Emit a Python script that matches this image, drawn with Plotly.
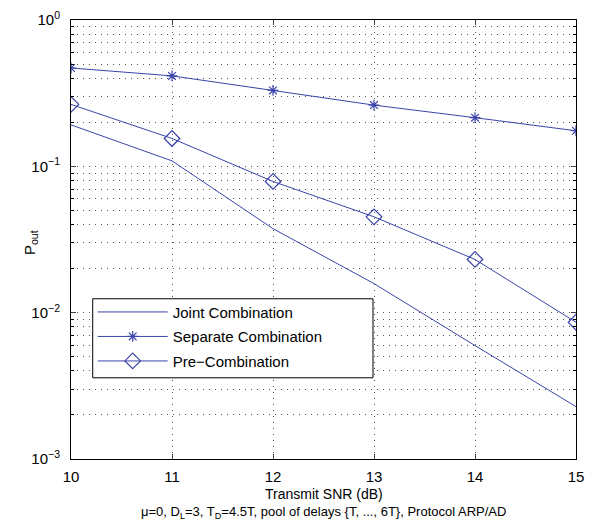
import plotly.graph_objects as go

snr = [10, 11, 12, 13, 14, 15]
joint = [0.192, 0.109, 0.0375, 0.0158, 0.00596, 0.00228]
separate = [0.47, 0.415, 0.33, 0.262, 0.215, 0.175]
precomb = [0.265, 0.155, 0.0788, 0.0452, 0.0231, 0.0086]

names = ["Joint Combination", "Separate Combination", "Pre\u2212Combination"]
y_tickvals = [1e-3, 1e-2, 1e-1, 1e0]
y_ticktext = ["10<sup>\u22123</sup>", "10<sup>\u22122</sup>", "10<sup>\u22121</sup>", "10<sup>0</sup>"]
y_minor = [m * 10.0 ** e for e in (-3, -2, -1) for m in range(2, 10)]
x_tickvals = [10, 11, 12, 13, 14, 15]

xlabel = "Transmit SNR (dB)"
sublabel = "\u03bc=0, D<sub>L</sub>=3, T<sub>D</sub>=4.5T, pool of delays {T, ..., 6T}, Protocol ARP/AD"
ylabel = "P<sub>out</sub>"

color = "#3a44aa"
font = "Liberation Sans, Arial, Helvetica, sans-serif"

fig = go.Figure()
fig.add_trace(go.Scatter(x=snr, y=joint, name=names[0], mode="lines",
                         line=dict(color=color, width=1), legendgroup="a"))
fig.add_trace(go.Scatter(x=snr, y=separate, name=names[1], mode="lines+markers",
                         line=dict(color=color, width=1), legendgroup="b",
                         marker=dict(symbol="asterisk-open", size=9,
                                     line=dict(color=color, width=1.2))))
fig.add_trace(go.Scatter(x=snr, y=precomb, name=names[2], mode="lines+markers",
                         line=dict(color=color, width=1), legendgroup="c",
                         marker=dict(symbol="diamond-open", size=12, color=color,
                                     line=dict(color=color, width=1.2))))

grid_dash = "1px,5px"
gcol = "#555555"
fig.update_xaxes(range=[10, 15], tickvals=x_tickvals, ticks="inside", ticklen=5,
                 showline=True, linecolor="black", linewidth=1, mirror="allticks",
                 showgrid=True, gridcolor=gcol, gridwidth=1, griddash=grid_dash,
                 zeroline=False, tickfont=dict(size=15, color="black"),
                 ticklabelstandoff=4)
fig.update_yaxes(type="log", range=[-3, 0], tickvals=y_tickvals, ticktext=y_ticktext,
                 ticks="inside", ticklen=5, showline=True, linecolor="black", linewidth=1,
                 mirror="allticks", showgrid=True, gridcolor=gcol, gridwidth=1,
                 griddash=grid_dash, zeroline=False, tickfont=dict(size=15, color="black"),
                 ticklabelstandoff=7,
                 minor=dict(tickmode="array", tickvals=y_minor, ticks="inside", ticklen=3,
                            tickcolor="black", showgrid=True, gridcolor=gcol,
                            griddash=grid_dash, gridwidth=1))

fig.add_annotation(text=xlabel, xref="paper", yref="paper", x=0.5, y=-0.057,
                   yanchor="top", showarrow=False, font=dict(size=14, color="black"))
fig.add_annotation(text=sublabel, xref="paper", yref="paper", x=0.5, y=-0.099,
                   yanchor="top", showarrow=False, font=dict(size=13, color="black"))
fig.add_annotation(text=ylabel, xref="paper", yref="paper", x=-0.103, y=0.493,
                   textangle=-90, showarrow=False, font=dict(size=15, color="black"))

# legend frame (wider than Plotly's automatic box, as in the reference)
fig.add_shape(type="rect", xref="paper", yref="paper", x0=0.043, x1=0.598,
              y0=0.185, y1=0.365, line=dict(color="black", width=1),
              fillcolor="white", layer="above")

fig.update_layout(
    width=593, height=523,
    margin=dict(l=71, r=9, t=15, b=64),
    paper_bgcolor="white", plot_bgcolor="white",
    font=dict(family=font, size=14, color="black"),
    showlegend=True,
    legend=dict(x=0.043, y=0.372, xanchor="left", yanchor="top",
                bgcolor="rgba(0,0,0,0)", borderwidth=0,
                font=dict(size=15), itemwidth=70,
                traceorder="grouped", tracegroupgap=2),
)

fig.write_html("out.html", config={"displayModeBar": False},
               post_script="document.body.style.margin='0';document.body.style.overflow='hidden';")
